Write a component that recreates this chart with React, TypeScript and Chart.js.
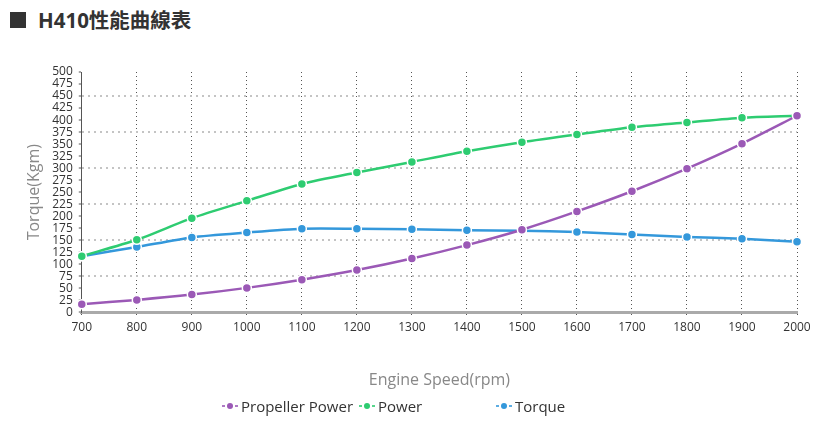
import React, { useEffect, useRef } from "react";
import { Chart, registerables } from "chart.js";

Chart.register(...registerables);

const rpm = ["700", "800", "900", "1000", "1100", "1200", "1300", "1400", "1500", "1600", "1700", "1800", "1900", "2000"];
const propellerPower = [17, 26, 37, 51, 68, 88, 112, 140, 172, 210, 252, 299, 351, 409];
const power = [117, 151, 196, 232, 267, 291, 313, 335, 354, 370, 385, 395, 405, 409];
const torque = [117, 136, 156, 166, 174, 174, 173, 171, 170, 167, 162, 157, 153, 147];

const seriesNames = ["Propeller Power", "Power", "Torque"];
const seriesColors = ["#9b59b6", "#2ecc71", "#3498db"];
const legendLeft = [222, 359, 496];

const FONT = "'Open Sans', 'Noto Sans', sans-serif";

export default function App() {
  const ref = useRef<HTMLCanvasElement | null>(null);

  useEffect(() => {
    if (!ref.current) return;
    const values = [propellerPower, power, torque];
    const chart = new Chart(ref.current, {
      type: "line",
      data: {
        labels: rpm,
        datasets: values.map((v, i) => ({
          label: seriesNames[i],
          data: v,
          borderColor: seriesColors[i],
          backgroundColor: seriesColors[i],
          pointBackgroundColor: seriesColors[i],
          pointBorderColor: "#ffffff",
          pointBorderWidth: 1.5,
          pointRadius: 4.5,
          borderWidth: 2.5,
          tension: 0.25,
          fill: false,
        })),
      },
      options: {
        animation: false,
        responsive: true,
        maintainAspectRatio: false,
        layout: { padding: { top: 72, left: 25, right: 26, bottom: 30 } },
        plugins: {
          legend: { display: false },
          tooltip: { enabled: false },
          title: { display: false },
        },
        scales: {
          x: {
            type: "category",
            offset: false,
            grid: {
              color: "#555",
              lineWidth: 1,
              tickLength: 4,
              tickColor: "#555",
              tickWidth: 1,
              tickBorderDash: [1, 3],
            },
            border: { display: true, color: "#aaa", width: 3, dash: [1, 3] },
            ticks: {
              color: "#333",
              font: { family: FONT, size: 12 },
              padding: 4,
              maxRotation: 0,
              autoSkip: false,
            },
            title: {
              display: true,
              text: "Engine Speed(rpm)",
              color: "#888",
              font: { family: FONT, size: 16 },
              padding: { top: 32, bottom: 4 },
            },
          },
          y: {
            min: 0,
            max: 500,
            grid: {
              color: (ctx: any) =>
                ctx.index % 3 === 0 && ctx.index !== 0 ? "#c4c4c4" : "rgba(0,0,0,0)",
              lineWidth: 2,
              tickLength: 3,
              tickColor: "#555",
              tickWidth: 1,
            },
            border: { display: true, color: "#555", width: 1, dash: [2, 4] },
            ticks: {
              stepSize: 25,
              color: "#333",
              font: { family: FONT, size: 12 },
              padding: 6,
              autoSkip: false,
            },
            title: {
              display: true,
              text: "Torque(Kgm)",
              color: "#888",
              font: { family: FONT, size: 16 },
              padding: { top: 0, bottom: 2 },
            },
          },
        },
      },
    });
    return () => chart.destroy();
  }, []);

  return (
    <div style={{ position: "absolute", left: 0, top: 0, width: 823, height: 424, background: "#fff" }}>
      <div style={{ position: "absolute", left: 10, top: 12, width: 16, height: 16, background: "#333" }} />
      <div
        style={{
          position: "absolute",
          left: 38,
          top: 6,
          fontFamily: "'Open Sans', 'Noto Sans CJK TC', sans-serif",
          fontWeight: 700,
          fontSize: 20.5,
          lineHeight: "28px",
          color: "#333",
          whiteSpace: "nowrap",
        }}
      >
        H410性能曲線表
      </div>
      <canvas ref={ref} style={{ position: "absolute", left: 0, top: 0 }} />
      {seriesNames.map((name, i) => (
        <div
          key={name}
          style={{
            position: "absolute",
            left: legendLeft[i],
            top: 396,
            height: 20,
            display: "flex",
            alignItems: "center",
            fontFamily: FONT,
            fontSize: 15,
            color: "#333",
            whiteSpace: "nowrap",
          }}
        >
          <span style={{ display: "inline-block", width: 3, height: 1.5, background: seriesColors[i], opacity: 0.8 }} />
          <span
            style={{
              display: "inline-block",
              width: 6,
              height: 6,
              borderRadius: 3,
              background: seriesColors[i],
              margin: "0 2px",
            }}
          />
          <span style={{ display: "inline-block", width: 3, height: 1.5, background: seriesColors[i], opacity: 0.8 }} />
          <span style={{ marginLeft: 3 }}>{name}</span>
        </div>
      ))}
    </div>
  );
}
